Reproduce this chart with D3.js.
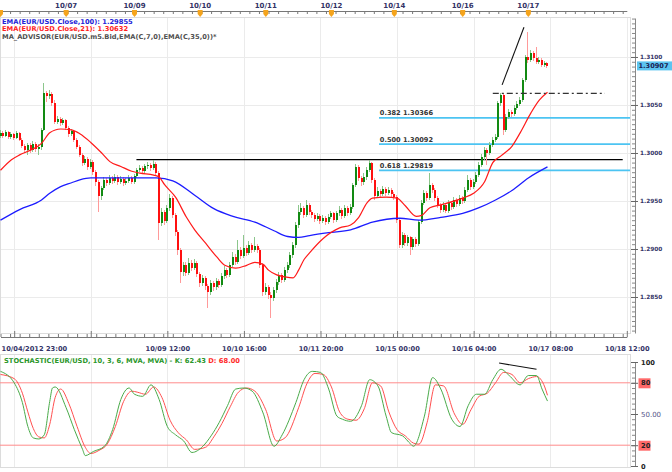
<!DOCTYPE html>
<html>
<head>
<meta charset="utf-8">
<script src="https://d3js.org/d3.v7.min.js"></script>
<style>
	body { margin: 0; background: #fff; }
	text { font-family: "DejaVu Sans", Verdana, sans-serif; }
</style>
</head>
<body>
<div id="chart"></div>
<script>
	// hourly EUR/USD candles, [open, high, low, close], bar 0 = 10/04 18:00
	var ohlc = [
		[1.3018,1.3024,1.3016,1.3021],[1.3021,1.3023,1.3016,1.3018],[1.3018,1.3024,1.3017,1.3022],[1.3022,1.3023,1.3015,1.3017],
		[1.3017,1.3022,1.3015,1.3020],[1.3020,1.3021,1.3014,1.3016],[1.3016,1.3023,1.3015,1.3021],[1.3021,1.3022,1.3013,1.3014],
		[1.3014,1.3016,1.3005,1.3007],[1.3007,1.3009,1.3000,1.3003],[1.3003,1.3010,1.2998,1.3008],[1.3008,1.3010,1.3000,1.3003],
		[1.3003,1.3013,1.3001,1.3009],[1.3009,1.3011,1.3001,1.3004],[1.3004,1.3009,1.2998,1.3006],[1.3006,1.3026,1.3003,1.3024],
		[1.3024,1.3073,1.3023,1.3063],[1.3063,1.3065,1.3053,1.3059],[1.3059,1.3066,1.3056,1.3061],[1.3061,1.3064,1.3049,1.3052],
		[1.3052,1.3055,1.3030,1.3032],[1.3032,1.3039,1.3030,1.3035],[1.3035,1.3038,1.3028,1.3031],[1.3031,1.3036,1.3029,1.3034],
		[1.3034,1.3035,1.3024,1.3026],[1.3026,1.3028,1.3017,1.3020],[1.3020,1.3025,1.3018,1.3023],[1.3023,1.3024,1.3011,1.3014],
		[1.3014,1.3016,1.3004,1.3006],[1.3006,1.3008,1.2996,1.2998],[1.2998,1.3000,1.2986,1.2990],[1.2990,1.2997,1.2987,1.2994],
		[1.2994,1.2996,1.2982,1.2985],[1.2985,1.2994,1.2983,1.2991],[1.2991,1.2993,1.2977,1.2980],[1.2980,1.2982,1.2966,1.2970],
		[1.2970,1.2972,1.2939,1.2955],[1.2955,1.2966,1.2951,1.2964],[1.2964,1.2975,1.2961,1.2972],[1.2972,1.2974,1.2966,1.2969],
		[1.2969,1.2977,1.2967,1.2974],[1.2974,1.2976,1.2968,1.2971],[1.2971,1.2978,1.2969,1.2975],[1.2975,1.2977,1.2967,1.2970],
		[1.2970,1.2976,1.2968,1.2973],[1.2973,1.2975,1.2966,1.2969],[1.2969,1.2974,1.2967,1.2971],[1.2971,1.2977,1.2969,1.2974],
		[1.2974,1.2976,1.2968,1.2970],[1.2970,1.2978,1.2968,1.2976],[1.2976,1.2984,1.2974,1.2982],[1.2982,1.2987,1.2980,1.2984],
		[1.2984,1.2986,1.2978,1.2981],[1.2981,1.2989,1.2979,1.2986],[1.2986,1.2991,1.2983,1.2987],[1.2987,1.2990,1.2981,1.2984],
		[1.2984,1.2993,1.2982,1.2989],[1.2989,1.2991,1.2976,1.2979],[1.2979,1.2981,1.2909,1.2927],[1.2927,1.2943,1.2924,1.2939],
		[1.2939,1.2941,1.2925,1.2929],[1.2929,1.2946,1.2927,1.2943],[1.2943,1.2957,1.2940,1.2953],[1.2953,1.2955,1.2932,1.2935],
		[1.2935,1.2937,1.2914,1.2918],[1.2918,1.2920,1.2894,1.2899],[1.2899,1.2901,1.2865,1.2876],[1.2876,1.2886,1.2872,1.2883],
		[1.2883,1.2886,1.2872,1.2875],[1.2875,1.2891,1.2873,1.2885],[1.2885,1.2889,1.2877,1.2880],[1.2880,1.2890,1.2878,1.2885],
		[1.2885,1.2887,1.2871,1.2874],[1.2874,1.2876,1.2860,1.2865],[1.2865,1.2873,1.2861,1.2870],[1.2870,1.2872,1.2857,1.2861],
		[1.2861,1.2864,1.2839,1.2855],[1.2855,1.2868,1.2852,1.2865],[1.2865,1.2867,1.2856,1.2860],[1.2860,1.2870,1.2857,1.2867],
		[1.2867,1.2869,1.2859,1.2862],[1.2862,1.2875,1.2860,1.2872],[1.2872,1.2882,1.2869,1.2878],[1.2878,1.2880,1.2870,1.2873],
		[1.2873,1.2886,1.2871,1.2883],[1.2883,1.2897,1.2881,1.2892],[1.2892,1.2895,1.2883,1.2886],[1.2886,1.2909,1.2884,1.2899],
		[1.2899,1.2902,1.2890,1.2893],[1.2893,1.2915,1.2891,1.2901],[1.2901,1.2904,1.2893,1.2896],[1.2896,1.2908,1.2894,1.2904],
		[1.2904,1.2906,1.2896,1.2899],[1.2899,1.2912,1.2897,1.2903],[1.2903,1.2905,1.2896,1.2899],[1.2899,1.2901,1.2880,1.2883],
		[1.2883,1.2885,1.2851,1.2855],[1.2855,1.2865,1.2852,1.2860],[1.2860,1.2862,1.2848,1.2852],[1.2852,1.2855,1.2828,1.2849],
		[1.2849,1.2860,1.2846,1.2857],[1.2857,1.2869,1.2854,1.2866],[1.2866,1.2876,1.2862,1.2873],[1.2873,1.2875,1.2865,1.2868],
		[1.2868,1.2881,1.2866,1.2878],[1.2878,1.2886,1.2875,1.2883],[1.2883,1.2897,1.2880,1.2894],[1.2894,1.2907,1.2891,1.2904],
		[1.2904,1.2928,1.2901,1.2925],[1.2925,1.2946,1.2922,1.2939],[1.2939,1.2948,1.2935,1.2943],[1.2943,1.2945,1.2932,1.2935],
		[1.2935,1.2951,1.2933,1.2946],[1.2946,1.2948,1.2935,1.2939],[1.2939,1.2941,1.2932,1.2935],[1.2935,1.2937,1.2928,1.2931],
		[1.2931,1.2937,1.2929,1.2934],[1.2934,1.2936,1.2926,1.2929],[1.2929,1.2935,1.2927,1.2932],[1.2932,1.2934,1.2925,1.2928],
		[1.2928,1.2936,1.2926,1.2933],[1.2933,1.2940,1.2931,1.2937],[1.2937,1.2939,1.2927,1.2930],[1.2930,1.2940,1.2928,1.2937],
		[1.2937,1.2945,1.2934,1.2941],[1.2941,1.2943,1.2931,1.2934],[1.2934,1.2946,1.2932,1.2943],[1.2943,1.2945,1.2934,1.2938],
		[1.2938,1.2947,1.2935,1.2944],[1.2944,1.2969,1.2942,1.2967],[1.2967,1.2989,1.2965,1.2985],[1.2985,1.2987,1.2971,1.2974],
		[1.2974,1.2976,1.2966,1.2970],[1.2970,1.2979,1.2967,1.2975],[1.2975,1.2985,1.2972,1.2982],[1.2982,1.2993,1.2980,1.2990],
		[1.2990,1.2991,1.2969,1.2972],[1.2972,1.2974,1.2951,1.2955],[1.2955,1.2965,1.2953,1.2960],[1.2960,1.2963,1.2954,1.2957],
		[1.2957,1.2966,1.2955,1.2963],[1.2963,1.2965,1.2955,1.2958],[1.2958,1.2965,1.2956,1.2961],[1.2961,1.2964,1.2954,1.2957],
		[1.2957,1.2959,1.2951,1.2954],[1.2954,1.2956,1.2927,1.2930],[1.2930,1.2932,1.2901,1.2904],[1.2904,1.2918,1.2901,1.2915],
		[1.2915,1.2917,1.2903,1.2906],[1.2906,1.2915,1.2903,1.2912],[1.2912,1.2914,1.2894,1.2902],[1.2902,1.2912,1.2899,1.2910],
		[1.2910,1.2912,1.2902,1.2905],[1.2905,1.2930,1.2903,1.2928],[1.2928,1.2951,1.2926,1.2948],[1.2948,1.2961,1.2946,1.2958],
		[1.2958,1.2960,1.2950,1.2953],[1.2953,1.2979,1.2951,1.2967],[1.2967,1.2969,1.2958,1.2961],[1.2961,1.2964,1.2950,1.2953],
		[1.2953,1.2955,1.2943,1.2946],[1.2946,1.2948,1.2938,1.2941],[1.2941,1.2949,1.2939,1.2946],[1.2946,1.2948,1.2937,1.2940],
		[1.2940,1.2951,1.2938,1.2948],[1.2948,1.2950,1.2941,1.2944],[1.2944,1.2954,1.2942,1.2951],[1.2951,1.2953,1.2944,1.2947],
		[1.2947,1.2956,1.2945,1.2953],[1.2953,1.2955,1.2947,1.2950],[1.2950,1.2965,1.2948,1.2961],[1.2961,1.2977,1.2959,1.2972],
		[1.2972,1.2974,1.2961,1.2965],[1.2965,1.2973,1.2963,1.2970],[1.2970,1.2980,1.2968,1.2977],[1.2977,1.2991,1.2975,1.2987],
		[1.2987,1.2999,1.2985,1.2996],[1.2996,1.3006,1.2993,1.3003],[1.3003,1.3005,1.2987,1.3000],[1.3000,1.3011,1.2998,1.3008],
		[1.3008,1.3017,1.3006,1.3014],[1.3014,1.3020,1.3011,1.3017],[1.3017,1.3054,1.3015,1.3052],[1.3052,1.3063,1.3049,1.3060],
		[1.3060,1.3062,1.3019,1.3024],[1.3024,1.3041,1.3022,1.3037],[1.3037,1.3046,1.3035,1.3043],[1.3043,1.3045,1.3037,1.3041],
		[1.3041,1.3050,1.3039,1.3047],[1.3047,1.3054,1.3045,1.3051],[1.3051,1.3058,1.3049,1.3055],[1.3055,1.3078,1.3053,1.3076],
		[1.3076,1.3102,1.3074,1.3100],[1.3100,1.3126,1.3094,1.3097],[1.3097,1.3107,1.3095,1.3104],[1.3104,1.3106,1.3096,1.3099],
		[1.3099,1.3110,1.3093,1.3095],[1.3095,1.3100,1.3093,1.3097],[1.3097,1.3099,1.3090,1.3092],[1.3092,1.3096,1.3090,1.3094],
		[1.3094,1.3095,1.3089,1.30907]
	];

	// indicator readings [bar, value]
	var ema21 = [[0,1.2982],[4,1.2993],[7,1.2998],[11,1.3003],[15,1.3010],[18,1.3021],[22,1.3025],[26,1.3024],[29,1.3020],
		[33,1.3011],[37,1.3000],[40,1.2991],[44,1.2986],[48,1.2981],[51,1.2979],[56,1.2977],[58,1.2975],[60,1.2967],[64,1.2954],
		[68,1.2933],[71,1.2920],[75,1.2906],[79,1.2892],[82,1.2883],[86,1.2880],[90,1.2883],[93,1.2886],[96,1.2884],[98,1.2878],
		[101,1.2873],[104,1.2871],[107,1.2870],[109,1.2878],[111,1.2889],[113,1.2896],[118,1.2911],[124,1.2922],[128,1.2925],
		[131,1.2933],[134,1.2948],[136,1.2953],[141,1.2954],[145,1.2953],[148,1.2945],[152,1.2934],[154,1.2935],[157,1.2943],
		[161,1.2946],[169,1.2953],[173,1.2958],[177,1.2970],[180,1.2990],[183,1.2997],[187,1.3007],[190,1.3021],[194,1.3042],
		[197,1.3055],[200,1.30632]];
	var ema100 = [[0,1.2930],[7,1.2941],[15,1.2951],[18,1.2958],[22,1.2965],[26,1.2969],[29,1.2972],[33,1.2974],[40,1.2974],
		[48,1.2974],[57,1.2974],[63,1.2971],[71,1.2956],[78,1.2942],[85,1.2934],[93,1.2928],[100,1.2919],[105,1.2913],[109,1.2912],
		[113,1.2914],[120,1.2917],[128,1.2920],[136,1.2928],[146,1.2932],[153,1.2930],[161,1.2933],[169,1.2937],[175,1.2943],
		[181,1.2951],[187,1.2961],[193,1.2974],[200,1.29855]];
	var stochK = [[0,91],[5,80],[8,61],[10,38],[12,27],[14,26],[16,30],[18,62],[19,75],[20,76],[24,56],[27,35],[30,16],[31,10],
		[34,14],[38,19],[41,35],[44,64],[47,75],[49,69],[52,67],[55,78],[58,64],[61,38],[64,30],[67,24],[70,13],[74,19],[77,29],
		[80,42],[83,58],[86,74],[89,75],[92,72],[96,51],[100,19],[103,30],[108,61],[111,83],[114,91],[117,90],[120,74],[123,48],
		[125,45],[128,43],[132,58],[135,83],[138,77],[141,48],[143,32],[147,29],[150,21],[151,19],[155,48],[158,85],[161,74],
		[165,45],[168,38],[171,58],[174,69],[177,69],[180,83],[183,93],[186,87],[190,78],[193,87],[196,87],[198,74],[200,62.43]];
	var stochD = [[0,88],[5,84],[8,70],[10,52],[12,36],[14,28],[16,27],[18,40],[20,66],[22,74],[25,60],[28,38],[31,18],[33,12],
		[36,15],[39,21],[42,38],[45,62],[48,72],[50,71],[53,69],[56,76],[59,66],[62,44],[65,32],[68,25],[71,16],[75,18],[78,28],
		[81,41],[84,57],[87,71],[90,75],[93,72],[97,54],[101,24],[104,27],[109,56],[112,79],[115,89],[118,88],[121,76],[124,52],
		[127,45],[130,44],[133,55],[136,80],[139,77],[142,52],[145,35],[148,29],[151,22],[153,21],[156,42],[159,78],[162,77],
		[166,50],[169,40],[172,54],[175,67],[178,70],[181,80],[184,90],[187,88],[190,80],[193,84],[196,86],[199,76],[200,68]];

	// axes labels
	var priceTicks = [1.2850, 1.2900, 1.2950, 1.3000, 1.3050, 1.3100];
	var stochTicks = [0, 20, 50, 80, 100];
	var dayLabels = ["10/07", "10/09", "10/10", "10/11", "10/12", "10/14", "10/16", "10/17"];
	var dayBars = [24, 49, 73, 97, 121, 144, 169, 193];
	var timeLabels = ["10/04/2012 23:00", "", "10/09 12:00", "10/10 16:00", "10/11 20:00", "10/15 00:00", "10/16 04:00", "10/17 08:00", "10/18 12:00"];
	var timeBars = [5, 33, 61, 89, 117, 145, 173, 201, 229];

	// drawn studies
	var fibLevels = [["0.382", 1.30366], ["0.500", 1.30092], ["0.618", 1.29819]];
	var resistance = { from: 49.7, to: 227.5, price: 1.2993 };
	var breakout = { from: 180, to: 221, price: 1.3062 };
	var trendLine = [[183.4, 1.3071], [191.4, 1.3131]];
	var stochTrend = [[182.3, 99], [196, 93]];
	var lastPrice = 1.30907;

	var w = 672, h = 472, plotR = 630;
	var svg = d3.select("#chart").append("svg")
		.attr("width", w)
		.attr("height", h);

	var x = d3.scaleLinear().domain([0, 229]).range([0.5, 626.8]);
	var y = d3.scaleLinear().domain([1.28125, 1.31406]).range([333, 18]);
	var ys = d3.scaleLinear().domain([0, 100]).range([466, 362]);
	var navy = "#333366";

	// ---------- grid ----------
	var grid = svg.append("g").attr("shape-rendering", "crispEdges");
	grid.selectAll(".hg").data(priceTicks).enter().append("line")
		.attr("x1", 0).attr("x2", plotR)
		.attr("y1", function(d) { return Math.round(y(d)) + 0.5; })
		.attr("y2", function(d) { return Math.round(y(d)) + 0.5; })
		.attr("stroke", "#ebebeb");
	[[18, 333], [355, 467]].forEach(function(r) {
		grid.selectAll(null).data(timeBars).enter().append("line")
			.attr("x1", function(d) { return Math.round(x(d)) + 0.5; })
			.attr("x2", function(d) { return Math.round(x(d)) + 0.5; })
			.attr("y1", r[0]).attr("y2", r[1])
			.attr("stroke", "#ebebeb");
	});
	grid.append("rect").attr("x", 0.5).attr("y", 17.5).attr("width", plotR).attr("height", 316)
		.attr("fill", "none").attr("stroke", "#dcdcdc");
	grid.append("rect").attr("x", 0.5).attr("y", 354.5).attr("width", plotR).attr("height", 113)
		.attr("fill", "none").attr("stroke", "#dcdcdc");

	// ---------- legend ----------
	var legend = [
		["EMA(EUR/USD.Close,100): 1.29855", "#2323d8"],
		["EMA(EUR/USD.Close,21): 1.30632", "#ff1e1e"],
		["MA_ADVISOR(EUR/USD.m5.Bid,EMA(C,7,0),EMA(C,35,0))*", "#505050"]
	];
	svg.selectAll(".leg").data(legend).enter().append("text")
		.attr("x", 2)
		.attr("y", function(d, i) { return 24 + i * 7.3; })
		.attr("font-size", 6.7).attr("font-weight", "bold")
		.attr("fill", function(d) { return d[1]; })
		.text(function(d) { return d[0]; });

	// ---------- studies behind candles ----------
	var studies = svg.append("g");
	studies.selectAll(".fib").data(fibLevels).enter().append("line")
		.attr("x1", x(138.4)).attr("x2", plotR)
		.attr("y1", function(d) { return y(d[1]); })
		.attr("y2", function(d) { return y(d[1]); })
		.attr("stroke", "#4cc4f2").attr("stroke-width", 1.6);
	studies.selectAll(".fibt").data(fibLevels).enter().append("text")
		.attr("x", x(138.7))
		.attr("y", function(d) { return y(d[1]) - 2.5; })
		.attr("font-size", 6.6).attr("font-weight", "bold").attr("fill", "#333")
		.text(function(d) { return d[0] + " " + d3.format(".5f")(d[1]); });
	studies.append("line")
		.attr("x1", x(resistance.from)).attr("x2", x(resistance.to))
		.attr("y1", y(resistance.price)).attr("y2", y(resistance.price))
		.attr("stroke", "#000").attr("stroke-width", 1.2);

	// ---------- candles ----------
	var candles = svg.append("g").attr("shape-rendering", "crispEdges");
	var c = candles.selectAll(".c").data(ohlc).enter().append("g");
	c.append("line")
		.attr("x1", function(d, i) { return Math.round(x(i)) - 0.5; })
		.attr("x2", function(d, i) { return Math.round(x(i)) - 0.5; })
		.attr("y1", function(d) { return y(d[1]); })
		.attr("y2", function(d) { return y(d[2]); })
		.attr("stroke", function(d) { return d[3] >= d[0] ? "#8cc68c" : "#ff9a9a"; });
	c.append("rect")
		.attr("x", function(d, i) { return Math.round(x(i)) - 1; })
		.attr("width", 2)
		.attr("y", function(d) { return y(Math.max(d[0], d[3])); })
		.attr("height", function(d) { return Math.max(1, Math.abs(y(d[0]) - y(d[3]))); })
		.attr("fill", function(d) { return d[3] >= d[0] ? "#128a12" : "#ff1010"; });

	// ---------- moving averages ----------
	var maLine = d3.line()
		.x(function(d) { return x(d[0]); })
		.y(function(d) { return y(d[1]); })
		.curve(d3.curveMonotoneX);
	svg.append("path").datum(ema100).attr("d", maLine)
		.attr("fill", "none").attr("stroke", "#1c1cff").attr("stroke-width", 1.3);
	svg.append("path").datum(ema21).attr("d", maLine)
		.attr("fill", "none").attr("stroke", "#ff1a1a").attr("stroke-width", 1.2);

	// ---------- front studies ----------
	svg.append("line")
		.attr("x1", x(breakout.from)).attr("x2", x(breakout.to))
		.attr("y1", y(breakout.price)).attr("y2", y(breakout.price))
		.attr("stroke", "#333").attr("stroke-width", 1.3).attr("stroke-dasharray", "6,3,2,3");
	svg.append("line")
		.attr("x1", x(trendLine[0][0])).attr("y1", y(trendLine[0][1]))
		.attr("x2", x(trendLine[1][0])).attr("y2", y(trendLine[1][1]))
		.attr("stroke", "#111").attr("stroke-width", 1.1);

	// ---------- top date ruler ----------
	var minorBars = d3.range(0, 231, 3.5);
	var topAxis = svg.append("g").attr("transform", "translate(0,11)");
	topAxis.call(d3.axisBottom(x).tickValues(minorBars).tickSize(3).tickFormat("").tickSizeOuter(0));
	topAxis.select(".domain").attr("stroke", "#777");
	topAxis.selectAll(".tick line").attr("stroke", "#777");
	topAxis.selectAll(".mk").data([0].concat(dayBars)).enter().append("path")
		.attr("d", function(d) { var cx = x(d); return "M" + (cx - 2.5) + ",-1H" + (cx + 2.5) + "V3L" + cx + ",6L" + (cx - 2.5) + ",3Z"; })
		.attr("fill", "#f5a41c");
	topAxis.selectAll(".dl").data(dayLabels).enter().append("text")
		.attr("x", function(d, i) { return x(dayBars[i]); })
		.attr("y", -3)
		.attr("text-anchor", "middle")
		.attr("font-size", 7).attr("font-weight", "bold").attr("fill", navy)
		.text(function(d) { return d; });

	// ---------- bottom time ruler ----------
	var bottomAxis = svg.append("g").attr("transform", "translate(0,337)");
	bottomAxis.call(d3.axisBottom(x).tickValues(minorBars).tickSize(-3).tickFormat("").tickSizeOuter(0));
	bottomAxis.select(".domain").attr("stroke", "#777");
	bottomAxis.selectAll(".tick line").attr("stroke", "#777");
	var major = bottomAxis.append("g")
		.call(d3.axisBottom(x).tickValues(timeBars).tickSize(-6).tickPadding(9)
			.tickFormat(function(d, i) { return timeLabels[i]; }));
	major.select(".domain").remove();
	major.selectAll(".tick line").attr("stroke", "#777");
	major.selectAll(".tick text")
		.attr("font-size", 6.7).attr("font-weight", "bold").attr("fill", navy)
		.attr("font-family", null);
	major.selectAll(".tick").filter(function(d, i) { return i === 0; }).select("text")
		.attr("text-anchor", "start").attr("x", 1 - x(timeBars[0]));

	// ---------- price axis ----------
	var minorPrices = d3.range(1.2815, 1.3145, 0.0005);
	var pa = svg.append("g").attr("transform", "translate(635,0)");
	pa.call(d3.axisLeft(y).tickValues(minorPrices).tickSize(3).tickFormat("").tickSizeOuter(0));
	pa.select(".domain").attr("stroke", "#888");
	pa.selectAll(".tick line").attr("stroke", "#888");
	var pm = svg.append("g").attr("transform", "translate(631,0)")
		.call(d3.axisRight(y).tickValues(priceTicks).tickSize(7).tickPadding(2).tickFormat(d3.format(".4f")));
	pm.select(".domain").remove();
	pm.selectAll(".tick line").attr("stroke", "#666");
	pm.selectAll(".tick text").attr("font-size", 5.8).attr("font-weight", "bold").attr("fill", navy).attr("font-family", null);
	svg.append("rect").attr("x", 637).attr("y", y(lastPrice) - 4.5).attr("width", 35).attr("height", 9).attr("fill", "#5cc4f0");
	svg.append("text").attr("x", 638.5).attr("y", y(lastPrice) + 2.3)
		.attr("font-size", 6.6).attr("font-weight", "bold").attr("fill", "#1a2050")
		.text(d3.format(".5f")(lastPrice));

	// ---------- stochastic panel ----------
	var sg = svg.append("g");
	[80, 20].forEach(function(v) {
		sg.append("line").attr("x1", 0).attr("x2", plotR)
			.attr("y1", ys(v)).attr("y2", ys(v))
			.attr("stroke", "#ff8c8c").attr("stroke-width", 1);
	});
	var sline = d3.line()
		.x(function(d) { return x(d[0]); })
		.y(function(d) { return ys(d[1]); })
		.curve(d3.curveMonotoneX);
	sg.append("path").datum(stochD).attr("d", sline)
		.attr("fill", "none").attr("stroke", "#ff5050").attr("stroke-width", 1);
	sg.append("path").datum(stochK).attr("d", sline)
		.attr("fill", "none").attr("stroke", "#4aab4a").attr("stroke-width", 1);
	sg.append("line")
		.attr("x1", x(stochTrend[0][0])).attr("y1", ys(stochTrend[0][1]))
		.attr("x2", x(stochTrend[1][0])).attr("y2", ys(stochTrend[1][1]))
		.attr("stroke", "#111").attr("stroke-width", 1.1);

	var title = sg.append("text").attr("x", 4).attr("y", 363)
		.attr("font-size", 6.7).attr("font-weight", "bold");
	title.append("tspan").attr("fill", "#2a962a").text("STOCHASTIC(EUR/USD, 10, 3, 6, MVA, MVA) - ");
	title.append("tspan").attr("fill", "#2a962a").text("K: " + d3.format(".2f")(stochK[stochK.length - 1][1]));
	title.append("tspan").attr("fill", "#ff2a2a").text(" D: " + d3.format(".2f")(stochD[stochD.length - 1][1]));

	var sa = svg.append("g").attr("transform", "translate(635,0)");
	sa.call(d3.axisLeft(ys).tickValues(d3.range(0, 101, 5)).tickSize(3).tickFormat("").tickSizeOuter(0));
	sa.select(".domain").attr("stroke", "#888");
	sa.selectAll(".tick line").attr("stroke", "#888");
	var sm = svg.append("g").attr("transform", "translate(631,0)")
		.call(d3.axisRight(ys).tickValues(stochTicks).tickSize(7).tickPadding(3)
			.tickFormat(function(d) { return d === 50 ? "50.00" : d; }));
	sm.select(".domain").remove();
	sm.selectAll(".tick line").attr("stroke", "#666");
	sm.selectAll(".tick").filter(function(d) { return d === 80 || d === 20; })
		.insert("rect", "text").attr("x", 638.5 - 631).attr("y", -5).attr("width", 12).attr("height", 10).attr("fill", "#ff6a6a");
	sm.selectAll(".tick text")
		.attr("font-family", null)
		.attr("font-size", function(d) { return d === 50 ? 7 : 6.7; })
		.attr("font-weight", function(d) { return d === 50 ? "normal" : "bold"; })
		.attr("fill", function(d) { return d === 50 ? "#555588" : "#222"; });
</script>
</body>
</html>
